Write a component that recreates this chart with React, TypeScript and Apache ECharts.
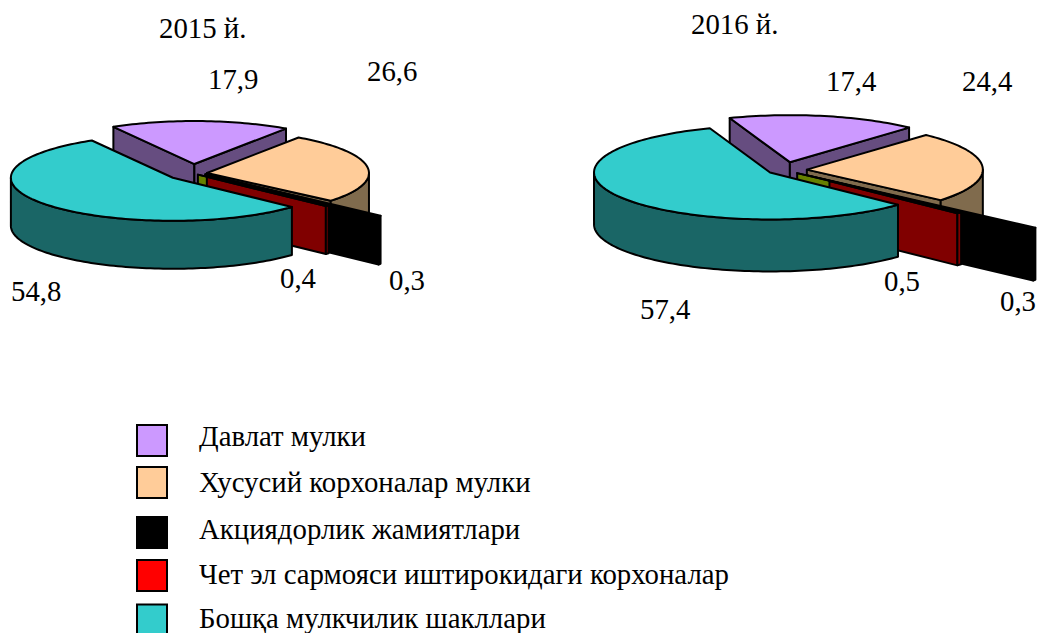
import React, { useEffect, useRef } from "react";
import * as echarts from "echarts";

// ---- data ----
const legendNames = [
  "Давлат мулки",
  "Хусусий корхоналар мулки",
  "Акциядорлик жамиятлари",
  "Чет эл сармояси иштирокидаги корхоналар",
  "Бошқа мулкчилик шакллари",
];
// slice order round the pie: state, private, joint-stock, unlabelled sliver, foreign, other
const sliceNames = ["Давлат", "Хусусий", "Акция", "—", "Чет эл", "Бошқа"];
const values2015 = [17.9, 26.6, 0.3, 0, 0.4, 54.8];
const values2016 = [17.4, 24.4, 0.3, 0, 0.5, 57.4];
const titles = ["2015 й.", "2016 й."];

// ---- styling ----
const topColors = ["#CC99FF", "#FFCC99", "#000000", "#668000", "#800000", "#33CCCC"];
const wallColors = ["#664D80", "#806B4D", "#000000", "#668000", "#800000", "#1A6666"];
const legendColors = ["#CC99FF", "#FFCC99", "#000000", "#FF0000", "#33CCCC"];
const drawOrder = [0, 1, 2, 3, 4, 5];
const FONT = '28.8px "Liberation Serif"';

const pies = [
  {
    values: values2015, start: -30, cx: 193, cy: 173.5, rx: 162, ry: 43, h: 48,
    arcOffset: [0.22, 0.087, 0.52, 0.04, 0.115, 0.159],
    tipOffset: [0.22, 0.087, 0.1, 0.04, 0.115, 0.159],
    tipLift: [0, 0, 2, 0, 0, 0],
  },
  {
    values: values2016, start: -20, cx: 784, cy: 170, rx: 176, ry: 47, h: 52,
    arcOffset: [0.17, 0.13, 0.885, 0.1, 0.35, 0.095],
    tipOffset: [0.17, 0.13, 0.17, 0.1, 0.35, 0.095],
    tipLift: [0, 0, 0, 0, 0, 0],
  },
];

const rad = (d: number) => (d * Math.PI) / 180;

function sliceRenderer(pie: (typeof pies)[number]) {
  const total = pie.values.reduce((a, b) => a + b, 0);
  return (params: any) => {
    const i = drawOrder[params.dataIndex];
    const before = pie.values.slice(0, i).reduce((a, b) => a + b, 0);
    const a0 = pie.start + (before / total) * 360;
    const a1 = a0 + (pie.values[i] / total) * 360;
    const mid = (a0 + a1) / 2;
    const ex = pie.arcOffset[i];
    const tx = pie.cx + pie.tipOffset[i] * pie.rx * Math.sin(rad(mid));
    const ty = pie.cy - pie.tipOffset[i] * pie.ry * Math.cos(rad(mid)) - pie.tipLift[i];
    const ox = pie.cx + ex * pie.rx * Math.sin(rad(mid));
    const oy = pie.cy - ex * pie.ry * Math.cos(rad(mid));
    const pt = (a: number): number[] => [
      ox + pie.rx * Math.sin(rad(a)),
      oy - pie.ry * Math.cos(rad(a)),
    ];
    const arc = (from: number, to: number): number[][] => {
      const n = Math.max(1, Math.ceil(Math.abs(to - from) / 1.5));
      const out: number[][] = [];
      for (let k = 0; k <= n; k++) out.push(pt(from + ((to - from) * k) / n));
      return out;
    };
    const down = (p: number[]) => [p[0], p[1] + pie.h];
    const stroke = { stroke: "#000", lineWidth: 2, lineJoin: "round" };
    const poly = (points: number[][], fill: string) => ({
      type: "polygon",
      shape: { points },
      style: { fill, ...stroke },
    });
    const children: any[] = [];
    const wall = wallColors[i];
    const tip = [tx, ty];
    if (Math.sin(rad(a0)) < 0) {
      const p = pt(a0);
      children.push(poly([tip, p, down(p), down(tip)], wall));
    }
    if (Math.sin(rad(a1)) > 0) {
      const p = pt(a1);
      children.push(poly([tip, p, down(p), down(tip)], wall));
    }
    const w0 = Math.max(a0, 90);
    const w1 = Math.min(a1, 270);
    if (w1 > w0) {
      const top = arc(w0, w1);
      children.push(poly([...top, ...top.slice().reverse().map(down)], wall));
    }
    children.push(poly([tip, ...arc(a0, a1)], topColors[i]));
    return { type: "group", children };
  };
}

const label = (text: string, x: number, y: number) => ({
  type: "text",
  x,
  y,
  silent: true,
  style: { text, font: FONT, fill: "#000", align: "left", verticalAlign: "middle" },
});

const comma = (v: number) => v.toFixed(1).replace(".", ",");

// where each slice's value label stands: slice index, x, y
const labelSpots = [
  [[0, 208, 79], [1, 367, 71], [2, 389, 280], [4, 280, 278], [5, 11, 291]],
  [[0, 826, 81], [1, 962, 81], [2, 1000, 301], [4, 884, 281], [5, 640, 309]],
];
const titleSpots = [[159, 28], [691, 24]];
const legendRows = [440.5, 482.5, 532.5, 575.5, 620];
const legendTexts = [436, 482, 529, 574, 618];

export default function App() {
  const ref = useRef<HTMLDivElement>(null);
  useEffect(() => {
    if (!ref.current) return;
    const chart = echarts.init(ref.current, undefined, { renderer: "svg" });
    const graphics: any[] = [];
    titles.forEach((t, i) => graphics.push(label(t, titleSpots[i][0], titleSpots[i][1])));
    labelSpots.forEach((spots, p) =>
      spots.forEach(([s, x, y]) => graphics.push(label(comma(pies[p].values[s]), x, y)))
    );
    legendNames.forEach((n, i) => {
      graphics.push({
        type: "rect",
        shape: { x: 137, y: legendRows[i] - 15.5, width: 30, height: 31 },
        style: { fill: legendColors[i], stroke: "#000", lineWidth: 2 },
      });
      graphics.push(label(n, 199, legendTexts[i]));
    });
    chart.setOption({
      animation: false,
      backgroundColor: "#fff",
      graphic: graphics,
      series: pies.map((pie, p) => ({
        type: "custom",
        name: titles[p],
        coordinateSystem: "none",
        silent: true,
        clip: false,
        renderItem: sliceRenderer(pie),
        data: drawOrder.map((i) => ({ name: sliceNames[i], value: [pie.values[i]] })),
      })),
    });
    return () => chart.dispose();
  }, []);
  return (
    <div
      ref={ref}
      style={{ position: "fixed", left: 0, top: 0, width: 1039, height: 633, overflow: "hidden" }}
    />
  );
}
